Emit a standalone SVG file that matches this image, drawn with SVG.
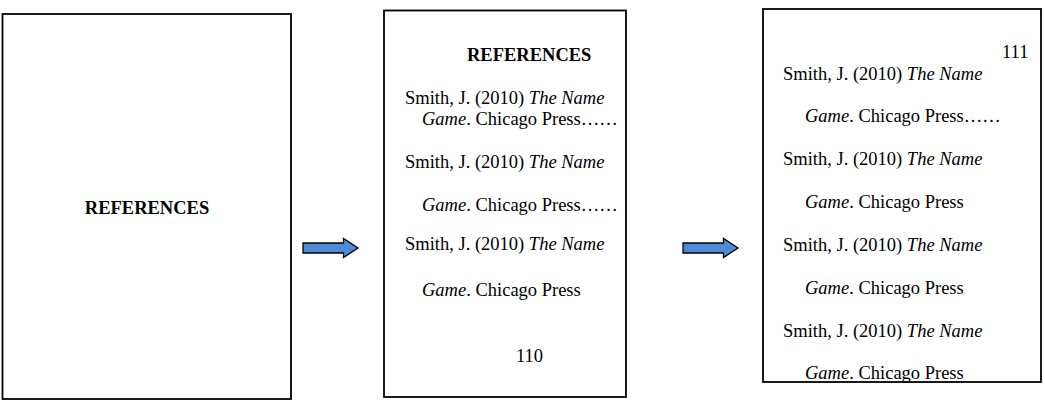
<svg xmlns="http://www.w3.org/2000/svg" width="1045" height="403" viewBox="0 0 1045 403">
<defs>
<style>
.page{fill:#fff;stroke:#000;stroke-width:1.8}
.t{font-family:"Liberation Serif","Times New Roman",serif;font-size:18.5px;fill:#000}
.b{font-weight:bold}
.arrow{fill:#4f8ad6;stroke:#000;stroke-width:1.3;stroke-linejoin:miter}
</style>
</defs>
<rect width="1045" height="403" fill="#fff"/>
<g id="page1">
<rect class="page" x="2.5" y="14" width="288.5" height="385"/>
<text class="t b" x="147" y="214" text-anchor="middle">REFERENCES</text>
</g>
<g id="page2">
<rect class="page" x="384" y="10.5" width="242" height="386.5"/>
<text class="t b" x="467" y="61">REFERENCES</text>
<text class="t" x="405" y="104">Smith, J. (2010) <tspan font-style="italic">The Name</tspan></text>
<text class="t" x="422" y="125"><tspan font-style="italic">Game</tspan>. Chicago Press……</text>
<text class="t" x="405" y="168">Smith, J. (2010) <tspan font-style="italic">The Name</tspan></text>
<text class="t" x="422" y="211"><tspan font-style="italic">Game</tspan>. Chicago Press……</text>
<text class="t" x="405" y="250">Smith, J. (2010) <tspan font-style="italic">The Name</tspan></text>
<text class="t" x="422" y="296"><tspan font-style="italic">Game</tspan>. Chicago Press</text>
<text class="t" x="516" y="362">110</text>
</g>
<g id="page3">
<rect class="page" x="763" y="9" width="278" height="373"/>
<text class="t" x="1002" y="58">111</text>
<text class="t" x="783" y="80">Smith, J. (2010) <tspan font-style="italic">The Name</tspan></text>
<text class="t" x="805" y="122"><tspan font-style="italic">Game</tspan>. Chicago Press……</text>
<text class="t" x="783" y="165">Smith, J. (2010) <tspan font-style="italic">The Name</tspan></text>
<text class="t" x="805" y="208"><tspan font-style="italic">Game</tspan>. Chicago Press</text>
<text class="t" x="783" y="251">Smith, J. (2010) <tspan font-style="italic">The Name</tspan></text>
<text class="t" x="805" y="294"><tspan font-style="italic">Game</tspan>. Chicago Press</text>
<text class="t" x="783" y="337">Smith, J. (2010) <tspan font-style="italic">The Name</tspan></text>
<text class="t" x="805" y="379"><tspan font-style="italic">Game</tspan>. Chicago Press</text>
</g>
<g id="connectors">
<path class="arrow" d="M303,243 H343.5 V238.5 L358,248 L343.5,257.5 V253 H303 Z"/>
<path class="arrow" d="M683,243 H723.5 V238.5 L738,248 L723.5,257.5 V253 H683 Z"/>
</g>
</svg>
